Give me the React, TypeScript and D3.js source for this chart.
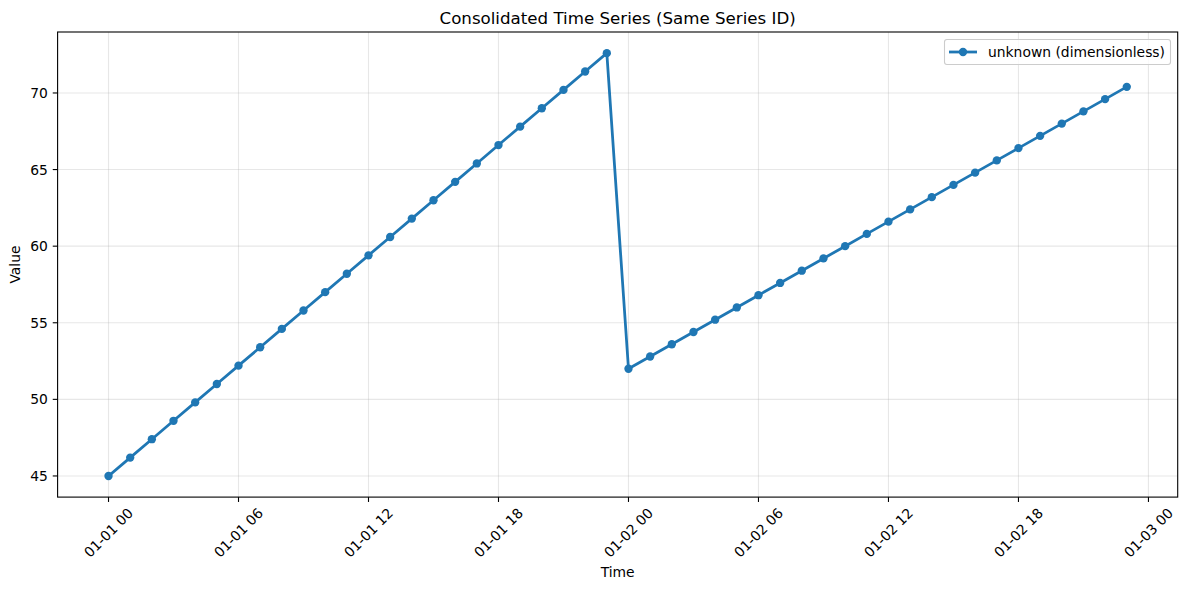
import React from "react";
import * as d3 from "d3";

const times: string[] = [
  "2024-01-01T00:00Z","2024-01-01T01:00Z","2024-01-01T02:00Z","2024-01-01T03:00Z",
  "2024-01-01T04:00Z","2024-01-01T05:00Z","2024-01-01T06:00Z","2024-01-01T07:00Z",
  "2024-01-01T08:00Z","2024-01-01T09:00Z","2024-01-01T10:00Z","2024-01-01T11:00Z",
  "2024-01-01T12:00Z","2024-01-01T13:00Z","2024-01-01T14:00Z","2024-01-01T15:00Z",
  "2024-01-01T16:00Z","2024-01-01T17:00Z","2024-01-01T18:00Z","2024-01-01T19:00Z",
  "2024-01-01T20:00Z","2024-01-01T21:00Z","2024-01-01T22:00Z","2024-01-01T23:00Z",
  "2024-01-02T00:00Z","2024-01-02T01:00Z","2024-01-02T02:00Z","2024-01-02T03:00Z",
  "2024-01-02T04:00Z","2024-01-02T05:00Z","2024-01-02T06:00Z","2024-01-02T07:00Z",
  "2024-01-02T08:00Z","2024-01-02T09:00Z","2024-01-02T10:00Z","2024-01-02T11:00Z",
  "2024-01-02T12:00Z","2024-01-02T13:00Z","2024-01-02T14:00Z","2024-01-02T15:00Z",
  "2024-01-02T16:00Z","2024-01-02T17:00Z","2024-01-02T18:00Z","2024-01-02T19:00Z",
  "2024-01-02T20:00Z","2024-01-02T21:00Z","2024-01-02T22:00Z","2024-01-02T23:00Z",
];

const values: number[] = [
  45.0, 46.2, 47.4, 48.6, 49.8, 51.0, 52.2, 53.4, 54.6, 55.8, 57.0, 58.2,
  59.4, 60.6, 61.8, 63.0, 64.2, 65.4, 66.6, 67.8, 69.0, 70.2, 71.4, 72.6,
  52.0, 52.8, 53.6, 54.4, 55.2, 56.0, 56.8, 57.6, 58.4, 59.2, 60.0, 60.8,
  61.6, 62.4, 63.2, 64.0, 64.8, 65.6, 66.4, 67.2, 68.0, 68.8, 69.6, 70.4,
];

const xTickTimes: string[] = [
  "2024-01-01T00:00Z","2024-01-01T06:00Z","2024-01-01T12:00Z","2024-01-01T18:00Z",
  "2024-01-02T00:00Z","2024-01-02T06:00Z","2024-01-02T12:00Z","2024-01-02T18:00Z",
  "2024-01-03T00:00Z",
];
const yTicks: number[] = [45, 50, 55, 60, 65, 70];

const title = "Consolidated Time Series (Same Series ID)";
const xLabel = "Time";
const yLabel = "Value";
const legendLabel = "unknown (dimensionless)";

const W = 1187, H = 590;
const plot = { left: 57.6, right: 1177.7, top: 32, bottom: 497.1 };
const color = "#1f77b4";
const font = "DejaVu Sans, sans-serif";

export default function App() {
  const dates = times.map((t) => new Date(t));
  const tExt = d3.extent(dates.map((d) => d.getTime())) as [number, number];
  const tPad = (tExt[1] - tExt[0]) * 0.05;
  const vExt = d3.extent(values) as [number, number];
  const vPad = (vExt[1] - vExt[0]) * 0.05;

  const x = d3.scaleTime()
    .domain([new Date(tExt[0] - tPad), new Date(tExt[1] + tPad)])
    .range([plot.left, plot.right]);
  const y = d3.scaleLinear()
    .domain([vExt[0] - vPad, vExt[1] + vPad])
    .range([plot.bottom, plot.top]);

  const fmt = d3.utcFormat("%m-%d %H");
  const line = d3.line<number>()
    .x((_, i) => x(dates[i]))
    .y((v) => y(v));

  const tickLen = 4.86;
  const grid = "rgba(176,176,176,0.3)";

  return (
    <svg width={W} height={H} style={{ position: "absolute", left: 0, top: 0, background: "#fff" }} fontFamily={font}>
      <rect x={0} y={0} width={W} height={H} fill="#fff" />
      {/* grid */}
      {xTickTimes.map((t) => (
        <line key={"gx" + t} x1={x(new Date(t))} x2={x(new Date(t))} y1={plot.top} y2={plot.bottom} stroke={grid} strokeWidth={1.1} />
      ))}
      {yTicks.map((v) => (
        <line key={"gy" + v} x1={plot.left} x2={plot.right} y1={y(v)} y2={y(v)} stroke={grid} strokeWidth={1.1} />
      ))}
      {/* series */}
      <path d={line(values) || ""} fill="none" stroke={color} strokeWidth={2.78} strokeLinejoin="round" strokeLinecap="square" />
      {values.map((v, i) => (
        <circle key={"p" + i} cx={x(dates[i])} cy={y(v)} r={4.17} fill={color} />
      ))}
      {/* frame */}
      <rect x={plot.left} y={plot.top} width={plot.right - plot.left} height={plot.bottom - plot.top} fill="none" stroke="#000" strokeWidth={1.1} />
      {/* x ticks */}
      {xTickTimes.map((t) => {
        const px = x(new Date(t));
        return (
          <g key={"xt" + t}>
            <line x1={px} x2={px} y1={plot.bottom} y2={plot.bottom + tickLen} stroke="#000" strokeWidth={1.1} />
            <text
              transform={`translate(${px},${plot.bottom + 35.5}) rotate(-45)`}
              textAnchor="middle"
              dominantBaseline="central"
              fontSize={13.89}
              fill="#000"
            >
              {fmt(new Date(t))}
            </text>
          </g>
        );
      })}
      {/* y ticks */}
      {yTicks.map((v) => (
        <g key={"yt" + v}>
          <line x1={plot.left - tickLen} x2={plot.left} y1={y(v)} y2={y(v)} stroke="#000" strokeWidth={1.1} />
          <text x={plot.left - tickLen - 4.86} y={y(v)} textAnchor="end" dominantBaseline="central" fontSize={13.89} fill="#000">
            {v}
          </text>
        </g>
      ))}
      {/* labels */}
      <text x={(plot.left + plot.right) / 2} y={23.5} textAnchor="middle" fontSize={16.67} fill="#000">{title}</text>
      <text x={(plot.left + plot.right) / 2} y={577} textAnchor="middle" fontSize={13.89} fill="#000">{xLabel}</text>
      <text transform={`translate(20,${(plot.top + plot.bottom) / 2}) rotate(-90)`} textAnchor="middle" fontSize={13.89} fill="#000">{yLabel}</text>
      {/* legend */}
      <g>
        <rect x={944.5} y={39.5} width={226} height={25} rx={2.5} fill="rgba(255,255,255,0.8)" stroke="#cccccc" strokeWidth={1.1} />
        <line x1={949} x2={977} y1={52} y2={52} stroke={color} strokeWidth={2.78} />
        <circle cx={963} cy={52} r={4.17} fill={color} />
        <text x={988} y={52} dominantBaseline="central" fontSize={13.89} fill="#000">{legendLabel}</text>
      </g>
    </svg>
  );
}
